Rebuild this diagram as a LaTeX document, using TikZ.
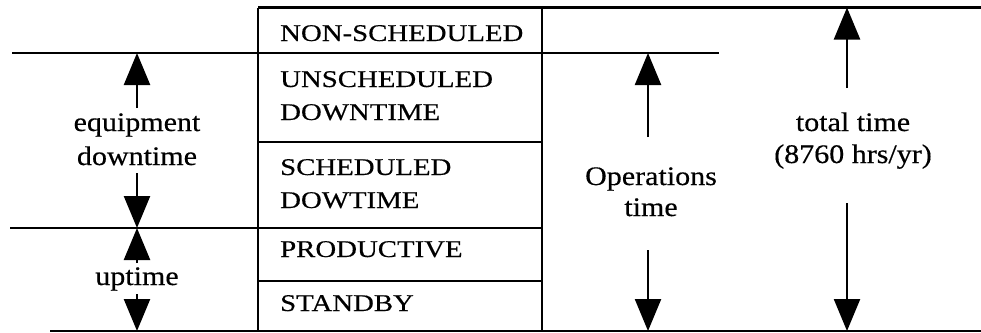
\documentclass[tikz,border=0pt]{standalone}
\usepackage{fontspec}
\usetikzlibrary{arrows.meta}
\newfontfamily\boxfont{Liberation Serif}[FakeStretch=1.2,FakeBold=0.4]
\newfontfamily\lblfont{Liberation Serif}[FakeStretch=1.12,FakeBold=0.4]
\begin{document}
\begin{tikzpicture}[x=1pt,y=-1pt,
  rule/.style={line width=2.2pt},
  arr/.style={line width=2.4pt,-{Triangle[width=26pt,length=32pt]}},
  cell/.style={inner sep=0pt,anchor=base west,font=\boxfont\fontsize{24}{28}\selectfont},
  lbl/.style={inner sep=0pt,anchor=base,font=\lblfont\fontsize{26.8}{33}\selectfont}]
\useasboundingbox (0,0) rectangle (981,332);
% rules
\draw[rule] (258,7.5) -- (981,7.5);
\draw[rule] (12,53) -- (719,53);
\draw[rule] (258,142) -- (542,142);
\draw[rule] (10,228) -- (542,228);
\draw[rule] (258,281) -- (542,281);
\draw[rule] (50,331) -- (981,331);
\draw[rule] (258,7.5) -- (258,331);
\draw[rule] (542,7.5) -- (542,331);
% cell texts
\node[cell] (ns) at (280,41) {NON-SCHEDULED};
\node[cell] (us1) at (280,87) {UNSCHEDULED};
\node[cell] (us2) at (280,120) {DOWNTIME};
\node[cell] (sd1) at (280,175) {SCHEDULED};
\node[cell] (sd2) at (280,208) {DOWTIME};
\node[cell] (pr) at (280,257) {PRODUCTIVE};
\node[cell] (sb) at (280,311) {STANDBY};
% labels
\node[lbl] (eq1) at (137,131) {equipment};
\node[lbl] (eq2) at (137,165) {downtime};
\node[lbl] (up) at (137,285) {uptime};
\node[lbl] (op1) at (651,185) {Operations};
\node[lbl] (op2) at (651,216) {time};
\node[lbl] (tt1) at (853,131) {total time};
\node[lbl] (tt2) at (853,163) {(8760 hrs/yr)};
% arrow endpoints
\coordinate (eqs1) at (137,108); \coordinate (eqt1) at (137,53);
\coordinate (eqs2) at (137,173); \coordinate (eqt2) at (137,228);
\coordinate (ups1) at (137,263); \coordinate (upt1) at (137,228);
\coordinate (ups2) at (137,294); \coordinate (upt2) at (137,331);
\coordinate (ops1) at (648,137); \coordinate (opt1) at (648,53);
\coordinate (ops2) at (648,250); \coordinate (opt2) at (648,331);
\coordinate (tts1) at (847,88); \coordinate (ttt1) at (847,7.5);
\coordinate (tts2) at (847,203); \coordinate (ttt2) at (847,331);
\draw[arr] (eqs1) -- (eqt1);
\draw[arr] (eqs2) -- (eqt2);
\draw[arr] (ups1) -- (upt1);
\draw[arr] (ups2) -- (upt2);
\draw[arr] (ops1) -- (opt1);
\draw[arr] (ops2) -- (opt2);
\draw[arr] (tts1) -- (ttt1);
\draw[arr] (tts2) -- (ttt2);
\end{tikzpicture}
\end{document}
